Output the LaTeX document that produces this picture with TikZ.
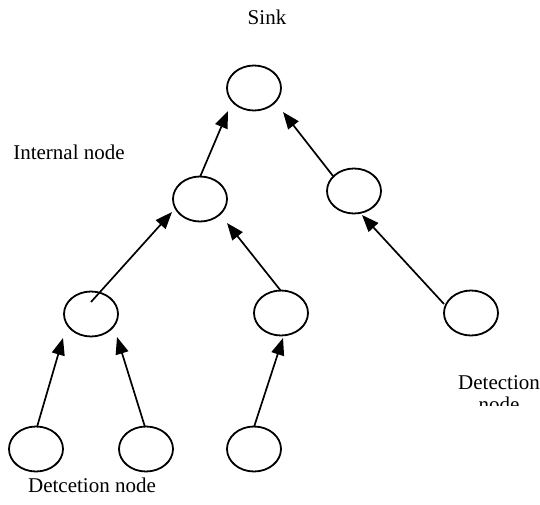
\documentclass[tikz,border=0pt]{standalone}
\usepackage{fontspec}
\setmainfont{Liberation Serif}
\usetikzlibrary{arrows.meta,shapes.geometric}
\begin{document}
\begin{tikzpicture}[x=1pt,y=-1pt,
  treenode/.style={draw=black, line width=1.8pt, ellipse, minimum width=54pt, minimum height=45pt, inner sep=0pt},
  uplink/.style={draw=black, line width=1.7pt, -{Triangle[length=17pt,width=13pt]}},
  caption/.style={font=\fontsize{21}{23}\selectfont, inner sep=0pt}]
\useasboundingbox (0,0) rectangle (540,505);

% tree nodes
\node[treenode] (S)  at (254,88)  {};
\node[treenode] (I1) at (200,199) {};
\node[treenode] (R1) at (354,191) {};
\node[treenode] (L3a) at (91,314) {};
\node[treenode] (L3b) at (281,313) {};
\node[treenode] (R2) at (471,313) {};
\node[treenode] (D1) at (36,449)  {};
\node[treenode] (D2) at (146,449) {};
\node[treenode] (D3) at (254,449) {};

% links towards the sink
\draw[uplink] ([shift={(0,-22)}]I1.center)  -- ([shift={(-26,23)}]S.center);
\draw[uplink] ([shift={(-21,-15)}]R1.center) -- ([shift={(29,24)}]S.center);
\draw[uplink] ([shift={(0,-12)}]L3a.center) -- ([shift={(-28,13)}]I1.center);
\draw[uplink] ([shift={(0,-22)}]L3b.center) -- ([shift={(27,24)}]I1.center);
\draw[uplink] ([shift={(-27,-9)}]R2.center) -- ([shift={(8,24)}]R1.center);
\draw[uplink] ([shift={(1,-22)}]D1.center)  -- ([shift={(-28,24)}]L3a.center);
\draw[uplink] ([shift={(-1,-22)}]D2.center) -- ([shift={(26,23)}]L3a.center);
\draw[uplink] ([shift={(0,-22)}]D3.center)  -- ([shift={(2,25)}]L3b.center);

% labels
\node[caption] (tSink) at (267,17) {Sink};
\node[caption] (tInt) at (69,152) {Internal node};
\node[caption] (tDet) at (92,485) {Detcetion node};
\begin{scope}
  \clip (430,360) rectangle (540,405);
  \node[caption, anchor=base] (tDetA) at (499,389) {Detection};
  \node[caption, anchor=base] (tDetB) at (499,411.5) {node};
\end{scope}
\end{tikzpicture}
\end{document}
